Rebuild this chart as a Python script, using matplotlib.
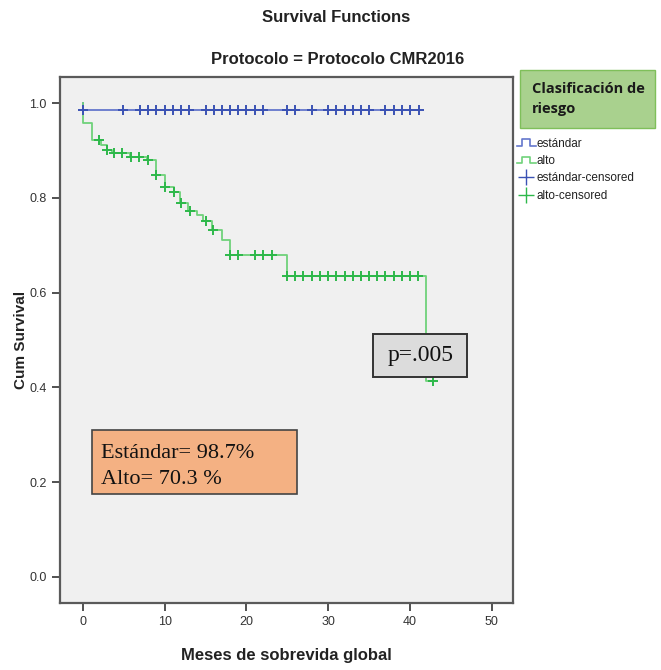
import numpy as np
import matplotlib
matplotlib.use("Agg")
import matplotlib.pyplot as plt
from matplotlib.lines import Line2D
from matplotlib.patches import Rectangle
from matplotlib.legend_handler import HandlerBase

# --- data ---
std_times = [0.0, 0.0, 41.1]
std_surv = [1.0, 0.985, 0.985]
std_censored = [0.0, 4.9, 7.0, 8.0, 9.0, 10.0, 11.0, 12.0, 13.0, 15.0, 16.0, 17.0,
                18.0, 19.0, 20.0, 21.0, 22.0, 25.0, 26.0, 28.0, 30.0, 31.0, 32.0,
                33.0, 34.0, 35.0, 37.0, 38.0, 39.0, 40.0, 41.1]

alto_times = [0.0, 0.0, 1.1, 2.2, 2.9, 3.6, 5.7, 7.9, 9.0, 10.0, 11.1, 11.9, 12.9,
              13.9, 14.7, 15.8, 17.0, 18.0, 24.9, 41.9, 42.8]
alto_surv = [1.0, 0.958, 0.923, 0.912, 0.901, 0.895, 0.887, 0.880, 0.849, 0.823,
             0.813, 0.790, 0.772, 0.763, 0.752, 0.732, 0.711, 0.680, 0.636, 0.413, 0.413]
alto_censored = [2.0, 3.0, 3.8, 4.8, 5.9, 6.9, 8.0, 9.0, 10.0, 11.2, 12.0, 13.1,
                 15.0, 15.9, 18.0, 19.0, 21.0, 22.0, 23.1, 24.9, 25.9, 26.9, 28.0,
                 29.0, 30.0, 31.0, 32.0, 33.0, 34.0, 35.0, 36.0, 37.0, 38.0, 39.0,
                 40.0, 41.0, 42.8]

x_ticks = [0, 10, 20, 30, 40, 50]
y_ticks = [0.0, 0.2, 0.4, 0.6, 0.8, 1.0]
legend_labels = ["estándar", "alto", "estándar-censored", "alto-censored"]

BLUE_LINE, BLUE_MARK = "#6477cc", "#3b52b4"
GREEN_LINE, GREEN_MARK = "#6fd27a", "#2db84a"
SANS = ["Liberation Sans", "DejaVu Sans"]
SERIF = ["Liberation Serif", "DejaVu Serif"]


def step_value(times, surv, t):
    idx = np.searchsorted(times, t, side="right") - 1
    return np.asarray(surv)[idx]


class StepHandler(HandlerBase):
    def create_artists(self, legend, orig, xd, yd, width, height, fontsize, trans):
        xs = np.array([0.0, 0.3, 0.3, 0.7, 0.7, 1.0]) * width - xd
        ys = np.array([0.1, 0.1, 0.9, 0.9, 0.1, 0.1]) * height - yd
        ln = Line2D(xs, ys, color=orig.get_color(), lw=1.2, transform=trans)
        return [ln]


fig = plt.figure(figsize=(6.61, 6.70), dpi=100)
ax = fig.add_axes([60 / 661, 67 / 670, 453 / 661, 526 / 670])
ax.set_facecolor("#f0f0f0")

l_std, = ax.plot(std_times, std_surv, drawstyle="steps-post", color=BLUE_LINE, lw=1.3)
l_alto, = ax.plot(alto_times, alto_surv, drawstyle="steps-post", color=GREEN_LINE, lw=1.3)
c_std, = ax.plot(std_censored, step_value(std_times, std_surv, std_censored), ls="none",
                 marker="+", ms=7, mew=1.4, color=BLUE_MARK)
c_alto, = ax.plot(alto_censored, step_value(alto_times, alto_surv, alto_censored), ls="none",
                  marker="+", ms=7, mew=1.4, color=GREEN_MARK)

ax.set_xlim(-2.8, 52.6)
ax.set_ylim(-0.055, 1.055)
ax.set_xticks(x_ticks)
ax.set_yticks(y_ticks)
ax.set_yticklabels([f"{v:.1f}" for v in y_ticks])
for lab in ax.get_xticklabels() + ax.get_yticklabels():
    lab.set_family(SANS)
ax.tick_params(labelsize=9, colors="#333333", length=6, width=1.2)
for sp in ax.spines.values():
    sp.set_color("#5a5a5a")
    sp.set_linewidth(1.6)

ax.set_xlabel("Meses de sobrevida global", family=SANS, fontsize=12, fontweight="bold",
              labelpad=14, color="#222222")
ax.set_ylabel("Cum Survival", family=SANS, fontsize=11, fontweight="bold",
              labelpad=1, color="#222222")

fig.text(336 / 661, 1 - 18 / 670, "Survival Functions", family=SANS, fontsize=12,
         fontweight="bold", ha="center", va="center", color="#222222")
fig.text(338 / 661, 1 - 60 / 670, "Protocolo = Protocolo CMR2016", family=SANS,
         fontsize=12, fontweight="bold", ha="center", va="center", color="#222222")

# p-value box
ax.add_patch(Rectangle((0.690, 0.430), 0.209, 0.081, transform=ax.transAxes,
                       fc="#dcdcdc", ec="#333333", lw=1.4, zorder=4))
ax.text(0.795, 0.470, "p=.005", transform=ax.transAxes, family=SERIF, fontsize=17,
        ha="center", va="center", color="#111111", zorder=5)

# summary box
ax.add_patch(Rectangle((0.0706, 0.207), 0.4525, 0.122, transform=ax.transAxes,
                       fc="#f4b183", ec="#444444", lw=1.2, zorder=4))
ax.text(0.090, 0.284, "Estándar= 98.7%", transform=ax.transAxes, family=SERIF,
        fontsize=16, ha="left", va="center", color="#111111", zorder=5)
ax.text(0.090, 0.234, "Alto= 70.3 %", transform=ax.transAxes, family=SERIF,
        fontsize=16, ha="left", va="center", color="#111111", zorder=5)

# legend title box
fig.patches.append(Rectangle((520 / 661, 1 - 128 / 670), 135 / 661, 58 / 670,
                             transform=fig.transFigure, fc="#a9d18e", ec="#7fbf5a", lw=1.0))
fig.text(532 / 661, 1 - 99 / 670, "Clasificación de\nriesgo", fontsize=10.5,
         fontweight="bold", ha="left", va="center", color="#1a1a1a",
         family=["Open Sans", "DejaVu Sans"], linespacing=1.5)

leg = fig.legend([l_std, l_alto, c_std, c_alto], legend_labels,
                 handler_map={l_std: StepHandler(), l_alto: StepHandler()},
                 loc="upper left", bbox_to_anchor=(512 / 661, 1 - 133 / 670),
                 frameon=False, prop={"family": SANS, "size": 8.5},
                 handlelength=1.6, handletextpad=0.1, labelspacing=0.45,
                 borderaxespad=0)
for t in leg.get_texts():
    t.set_color("#222222")
for h in leg.legend_handles[2:]:
    h.set_markersize(11)
    h.set_markeredgewidth(1.0)

fig.savefig("out.png", dpi=100)
